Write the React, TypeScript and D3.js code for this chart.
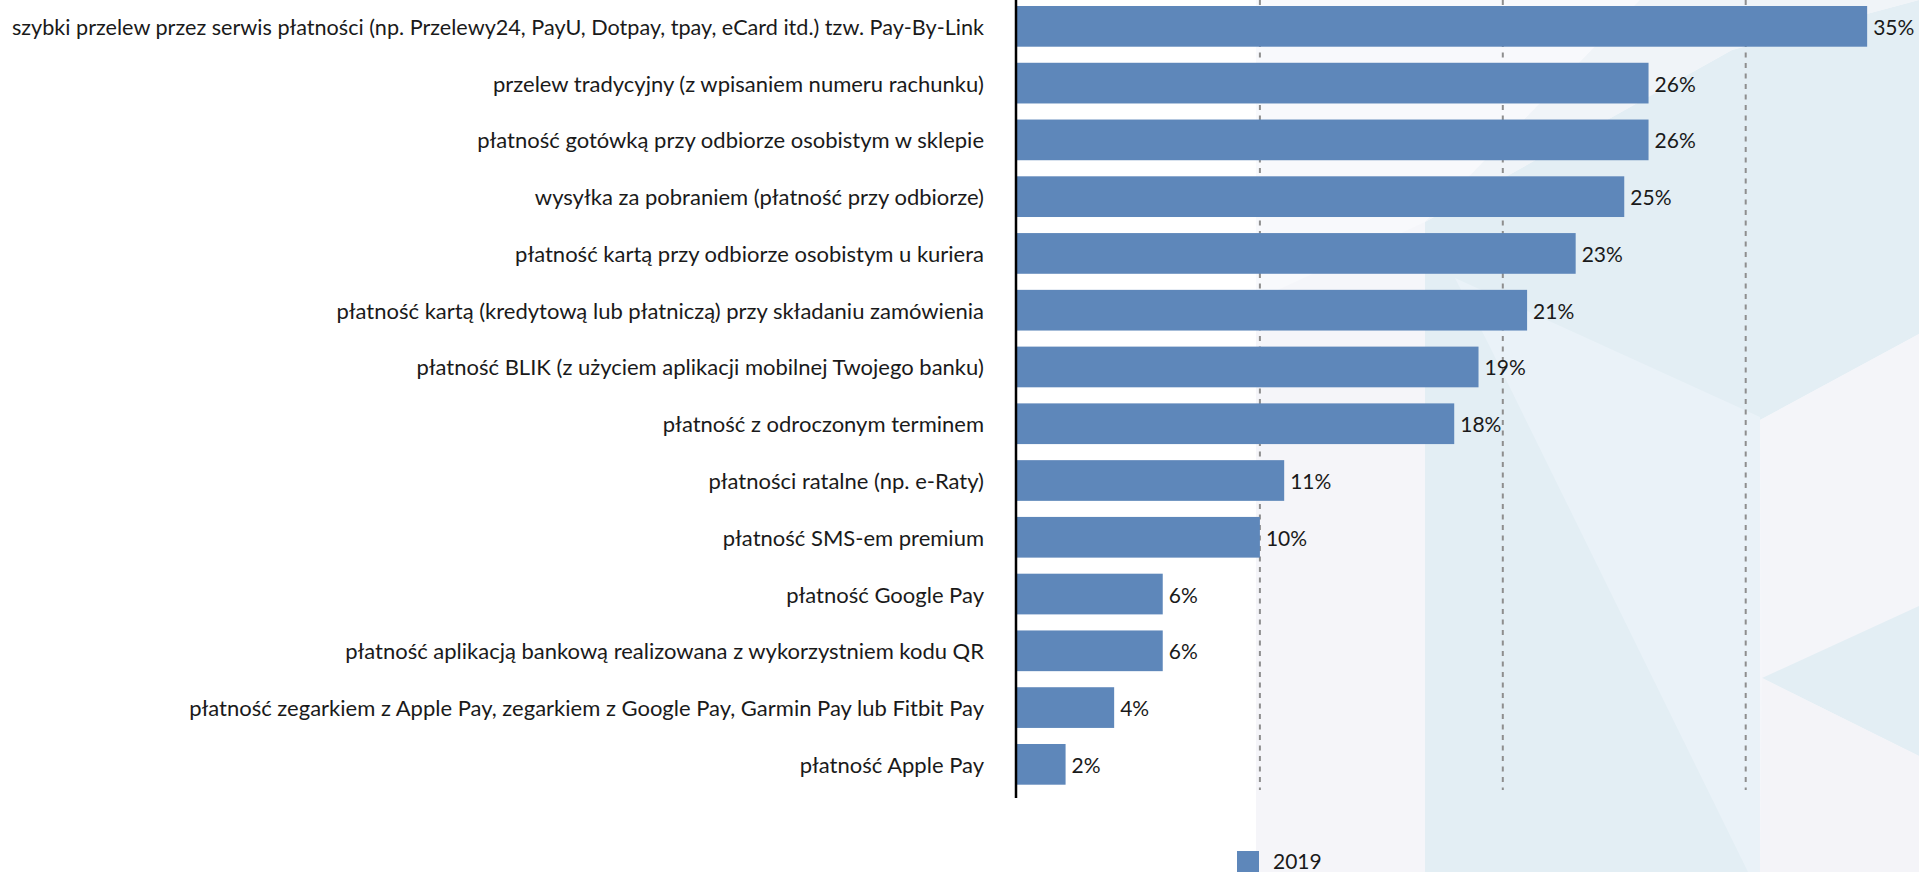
import React from 'react';
import * as d3 from 'd3';

const categories = [
  'szybki przelew przez serwis płatności (np. Przelewy24, PayU, Dotpay, tpay, eCard itd.) tzw. Pay-By-Link',
  'przelew tradycyjny (z wpisaniem numeru rachunku)',
  'płatność gotówką przy odbiorze osobistym w sklepie ',
  'wysyłka za pobraniem (płatność przy odbiorze)',
  'płatność kartą przy odbiorze osobistym u kuriera',
  'płatność kartą (kredytową lub płatniczą) przy składaniu zamówienia',
  'płatność BLIK (z użyciem aplikacji mobilnej Twojego banku)',
  'płatność z odroczonym terminem',
  'płatności ratalne (np. e-Raty)',
  'płatność SMS-em premium',
  'płatność Google Pay',
  'płatność aplikacją bankową realizowana z wykorzystniem kodu QR',
  'płatność zegarkiem z Apple Pay, zegarkiem z Google Pay, Garmin Pay lub Fitbit Pay',
  'płatność Apple Pay',
];
const values2019 = [35, 26, 26, 25, 23, 21, 19, 18, 11, 10, 6, 6, 4, 2];
const gridTicks = [10, 20, 30];
const seriesName = '2019';

const W = 1919;
const H = 872;
const FONT = 'Lato, "Open Sans", sans-serif';
const BAR = '#5e87ba';
const LABEL_SIZE = 22;
const LABEL_RIGHT = 984;
const LABEL_MAX = 972;

let ctx: CanvasRenderingContext2D | null = null;
function measure(text: string, size: number): number {
  if (!ctx) {
    const c = document.createElement('canvas');
    ctx = c.getContext('2d');
  }
  if (!ctx) return 0;
  ctx.font = `${size}px Lato`;
  return ctx.measureText(text).width;
}

export default function App() {
  const x = d3.scaleLinear().domain([0, 40]).range([1017, 1988.6]);
  const y = d3
    .scaleBand<string>()
    .domain(categories)
    .range([6, 784.7])
    .paddingInner(0.283)
    .paddingOuter(0);

  return (
    <svg
      width={W}
      height={H}
      style={{ position: 'fixed', left: 0, top: 0, background: '#ffffff' }}
      fontFamily={FONT}
    >
      {/* decorative background */}
      <g>
        <rect x={1256} y={0} width={W - 1256} height={H} fill="#f5f6fa" />
        <polygon points="1256,0 1640,0 1425,222 1256,300" fill="#f8f9fc" />
        <polygon points="1425,222 1732,50 1919,0 1919,334 1760,420 1760,872 1425,872" fill="#e3eef4" />
        <polygon points="1640,0 1919,0 1732,50 1425,222" fill="#f0f4f8" />
        <polygon points="1455,278 1760,417 1760,872 1748,872 1489,345" fill="#eaf2f8" />
        <polygon points="1760,420 1919,334 1919,606 1762,678" fill="#f4f5f9" />
        <polygon points="1762,678 1919,606 1919,756" fill="#e3eef4" />
        <polygon points="1762,678 1919,756 1919,872 1760,872" fill="#f4f4f8" />
        <rect x={1256} y={300} width={169} height={H - 300} fill="#f5f5f9" />
      </g>

      {/* gridlines */}
      {gridTicks.map((t) => (
        <line
          key={t}
          x1={x(t)}
          x2={x(t)}
          y1={0}
          y2={790}
          stroke="#8e8e8e"
          strokeWidth={2}
          strokeDasharray="5,5.5"
        />
      ))}

      {/* bars */}
      {categories.map((c, i) => (
        <rect
          key={c}
          x={x(0)}
          y={y(c)}
          width={x(values2019[i]) - x(0)}
          height={y.bandwidth()}
          fill={BAR}
        />
      ))}

      {/* axis */}
      <line x1={1016} x2={1016} y1={0} y2={798} stroke="#000" strokeWidth={2.5} />

      {/* category labels */}
      {categories.map((c) => {
        const wTxt = measure(c.trimEnd(), LABEL_SIZE);
        const fit = wTxt > LABEL_MAX;
        return (
          <text
            key={c}
            x={LABEL_RIGHT}
            y={(y(c) as number) + y.bandwidth() / 2}
            textAnchor="end"
            dominantBaseline="central"
            fontSize={LABEL_SIZE}
            fill="#1a1a1a"
            {...(fit ? { textLength: LABEL_MAX, lengthAdjust: 'spacingAndGlyphs' } : {})}
          >
            {c.trimEnd()}
          </text>
        );
      })}

      {/* value labels */}
      {categories.map((c, i) => (
        <text
          key={c}
          x={x(values2019[i]) + 6}
          y={(y(c) as number) + y.bandwidth() / 2}
          dominantBaseline="central"
          fontSize={21}
          fill="#1a1a1a"
        >
          {values2019[i]}%
        </text>
      ))}

      {/* legend */}
      <rect x={1237} y={851} width={22} height={22} fill={BAR} />
      <text x={1273} y={869} fontSize={21} fill="#1a1a1a">
        {seriesName}
      </text>
    </svg>
  );
}
